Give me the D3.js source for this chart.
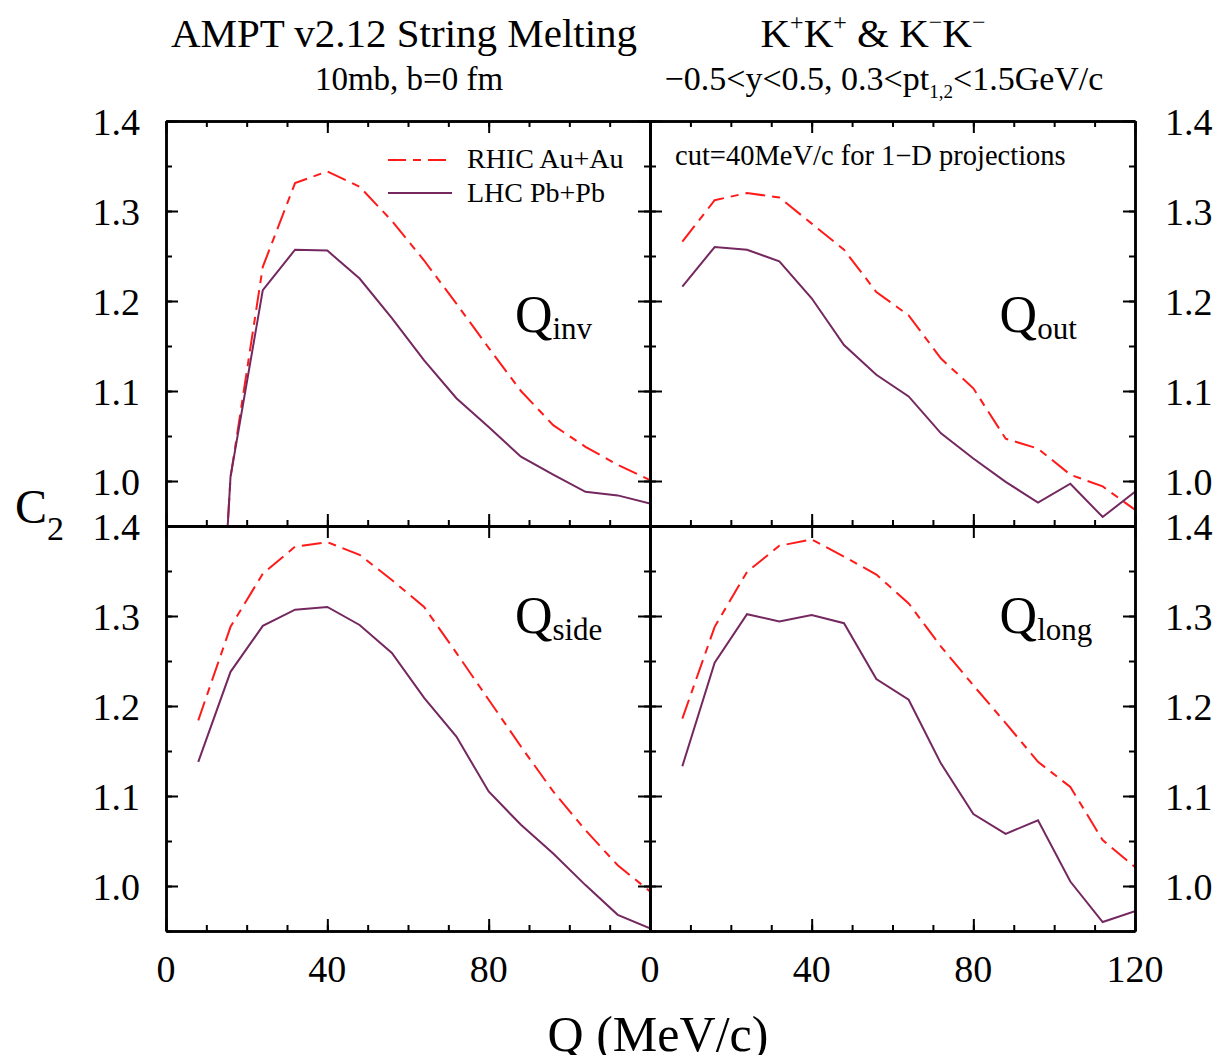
<!DOCTYPE html>
<html>
<head>
<meta charset="utf-8">
<style>
  body { margin: 0; background: #fff; }
  text { font-family: "Liberation Serif", "Times New Roman", serif; fill: #000; }
</style>
</head>
<body>
<svg width="1222" height="1055"></svg>
<script src="https://d3js.org/d3.v7.min.js"></script>
<script>

// Q values (MeV/c), same for every projection
var qx = [8, 16, 24, 32, 40, 48, 56, 64, 72, 80, 88, 96, 104, 112, 120];

// C2
var rhicInv  = [0.40, 1.004, 1.238, 1.331, 1.344, 1.327, 1.289, 1.245, 1.197, 1.148, 1.100, 1.062, 1.038, 1.018, 1.001];
var lhcInv   = [0.38, 1.005, 1.212, 1.257, 1.256, 1.225, 1.181, 1.134, 1.092, 1.060, 1.027, 1.007, 0.988, 0.984, 0.975];
var rhicOut  = [1.266, 1.312, 1.320, 1.315, 1.286, 1.257, 1.210, 1.184, 1.136, 1.103, 1.047, 1.036, 1.007, 0.994, 0.968];
var lhcOut   = [1.216, 1.260, 1.257, 1.244, 1.203, 1.151, 1.118, 1.094, 1.053, 1.025, 0.999, 0.976, 0.997, 0.960, 0.988];
var rhicSide = [1.184, 1.288, 1.347, 1.377, 1.382, 1.368, 1.340, 1.310, 1.259, 1.207, 1.155, 1.105, 1.062, 1.023, 0.994];
var lhcSide  = [1.138, 1.238, 1.289, 1.307, 1.310, 1.290, 1.259, 1.209, 1.166, 1.105, 1.068, 1.036, 1.001, 0.968, 0.953];
var rhicLong = [1.186, 1.288, 1.349, 1.378, 1.385, 1.366, 1.346, 1.314, 1.266, 1.223, 1.181, 1.138, 1.110, 1.051, 1.021];
var lhcLong  = [1.133, 1.248, 1.302, 1.294, 1.301, 1.292, 1.230, 1.207, 1.136, 1.080, 1.058, 1.073, 1.005, 0.960, 0.972];

var xMajor = [0, 40, 80, 120];
var xMinor = d3.range(0, 121, 10);
var yMajor = [1.0, 1.1, 1.2, 1.3, 1.4];
var yMinor = [0.95, 1.0, 1.05, 1.1, 1.15, 1.2, 1.25, 1.3, 1.35, 1.4];
var yLabels = ["1.0", "1.1", "1.2", "1.3", "1.4"];

var panels = [
  {sub: "inv",  col: 0, row: 0, rhic: rhicInv,  lhc: lhcInv},
  {sub: "out",  col: 1, row: 0, rhic: rhicOut,  lhc: lhcOut},
  {sub: "side", col: 0, row: 1, rhic: rhicSide, lhc: lhcSide},
  {sub: "long", col: 1, row: 1, rhic: rhicLong, lhc: lhcLong}
];

var svg = d3.select("svg");
var colX = [[166, 650], [650, 1135]];
var rowY = [[121, 526], [526, 931]];
var red = "#ff1a1a", purple = "#74285f";

panels.forEach(function(p, i) {
  var x = d3.scaleLinear().domain([0, 120]).range(colX[p.col]);
  var y = d3.scaleLinear().domain([0.95, 1.4]).range([rowY[p.row][1], rowY[p.row][0]]);
  var g = svg.append("g");

  g.append("clipPath").attr("id", "clip" + i)
    .append("rect")
      .attr("x", x(0)).attr("y", y(1.4))
      .attr("width", x(120) - x(0)).attr("height", y(0.95) - y(1.4));

  var line = d3.line()
      .x(function(d, j) { return x(qx[j]); })
      .y(function(d) { return y(d); });

  g.append("path")
      .datum(p.rhic)
      .attr("clip-path", "url(#clip" + i + ")")
      .attr("fill", "none")
      .attr("stroke", red)
      .attr("stroke-width", 2)
      .attr("stroke-dasharray", "20,7,8,7")
      .attr("d", line);

  g.append("path")
      .datum(p.lhc)
      .attr("clip-path", "url(#clip" + i + ")")
      .attr("fill", "none")
      .attr("stroke", purple)
      .attr("stroke-width", 2)
      .attr("d", line);

  function axis(a, vals, size) {
    return a.tickValues(vals).tickSize(size).tickSizeOuter(0).tickFormat("");
  }
  var frame = g.append("g").attr("class", "frame");
  // bottom (ticks up)
  frame.append("g").attr("transform", "translate(0," + y(0.95) + ")").call(axis(d3.axisTop(x), xMinor, 6));
  frame.append("g").attr("transform", "translate(0," + y(0.95) + ")").call(axis(d3.axisTop(x), xMajor, 12));
  // top (ticks down)
  if (p.row === 0)
    frame.append("g").attr("transform", "translate(0," + y(1.4) + ")").call(axis(d3.axisBottom(x), xMinor, 6));
  frame.append("g").attr("transform", "translate(0," + y(1.4) + ")").call(axis(d3.axisBottom(x), xMajor, 12));
  // left (ticks right)
  frame.append("g").attr("transform", "translate(" + x(0) + ",0)").call(axis(d3.axisRight(y), yMinor, 6));
  frame.append("g").attr("transform", "translate(" + x(0) + ",0)").call(axis(d3.axisRight(y), yMajor, 12));
  // right (ticks left)
  frame.append("g").attr("transform", "translate(" + x(120) + ",0)").call(axis(d3.axisLeft(y), yMinor, 6));
  frame.append("g").attr("transform", "translate(" + x(120) + ",0)").call(axis(d3.axisLeft(y), yMajor, 12));

  frame.selectAll("path.domain").attr("stroke", "#000").attr("stroke-width", 2.5);
  frame.selectAll(".tick line").attr("stroke", "#000").attr("stroke-width", 2);

  // y tick labels
  if (p.col === 0) {
    g.selectAll("text.yl").data(yMajor).enter().append("text")
        .attr("x", 140).attr("y", function(d) { return y(d) + 14; })
        .attr("text-anchor", "end").attr("font-size", 38)
        .text(function(d, j) { return yLabels[j]; });
  } else {
    g.selectAll("text.yl").data(yMajor).enter().append("text")
        .attr("x", 1165).attr("y", function(d) { return y(d) + 14; })
        .attr("text-anchor", "start").attr("font-size", 38)
        .text(function(d, j) { return yLabels[j]; });
  }

  // x tick labels
  if (p.row === 1) {
    var xl = p.col === 0 ? [0, 40, 80] : [0, 40, 80, 120];
    g.selectAll("text.xl").data(xl).enter().append("text")
        .attr("x", function(d) { return x(d); }).attr("y", 982)
        .attr("text-anchor", "middle").attr("font-size", 38)
        .text(function(d) { return d; });
  }

  // projection label
  var lbl = g.append("text")
      .attr("x", x(86.5)).attr("y", y(1.4) + (p.row === 0 ? 211 : 107))
      .attr("font-size", 52);
  lbl.append("tspan").text("Q");
  lbl.append("tspan").attr("font-size", 31).attr("dy", 7).text(p.sub);
});

// legend
var leg = svg.append("g");
leg.append("line").attr("x1", 388).attr("x2", 452).attr("y1", 160).attr("y2", 160)
    .attr("stroke", red).attr("stroke-width", 2).attr("stroke-dasharray", "18,7,8,7");
leg.append("text").attr("x", 467).attr("y", 168).attr("font-size", 28).text("RHIC Au+Au");
leg.append("line").attr("x1", 388).attr("x2", 452).attr("y1", 193).attr("y2", 193)
    .attr("stroke", purple).attr("stroke-width", 2);
leg.append("text").attr("x", 467).attr("y", 202).attr("font-size", 28).text("LHC Pb+Pb");

svg.append("text").attr("x", 675).attr("y", 165).attr("font-size", 28.5)
    .text("cut=40MeV/c for 1\u2212D projections");

// titles
svg.append("text").attr("x", 404).attr("y", 47).attr("text-anchor", "middle")
    .attr("font-size", 41).text("AMPT v2.12 String Melting");
svg.append("text").attr("x", 409).attr("y", 90).attr("text-anchor", "middle")
    .attr("font-size", 33).text("10mb, b=0 fm");

var kt = svg.append("text").attr("x", 873).attr("y", 47).attr("text-anchor", "middle").attr("font-size", 41);
kt.append("tspan").text("K");
kt.append("tspan").attr("font-size", 24).attr("dy", -17).text("+");
kt.append("tspan").attr("dy", 17).text("K");
kt.append("tspan").attr("font-size", 24).attr("dy", -17).text("+");
kt.append("tspan").attr("dy", 17).text(" & K");
kt.append("tspan").attr("font-size", 24).attr("dy", -17).text("\u2212");
kt.append("tspan").attr("dy", 17).text("K");
kt.append("tspan").attr("font-size", 24).attr("dy", -17).text("\u2212");

var ct = svg.append("text").attr("x", 884).attr("y", 90).attr("text-anchor", "middle").attr("font-size", 34);
ct.append("tspan").text("\u22120.5<y<0.5, 0.3<pt");
ct.append("tspan").attr("font-size", 19).attr("dy", 8).text("1,2");
ct.append("tspan").attr("dy", -8).text("<1.5GeV/c");

// axis titles
var yt = svg.append("text").attr("x", 15).attr("y", 523).attr("font-size", 48);
yt.append("tspan").text("C");
yt.append("tspan").attr("font-size", 34).attr("dy", 17).text("2");

svg.append("text").attr("x", 658).attr("y", 1051).attr("text-anchor", "middle")
    .attr("font-size", 50).text("Q (MeV/c)");

</script>
</body>
</html>
